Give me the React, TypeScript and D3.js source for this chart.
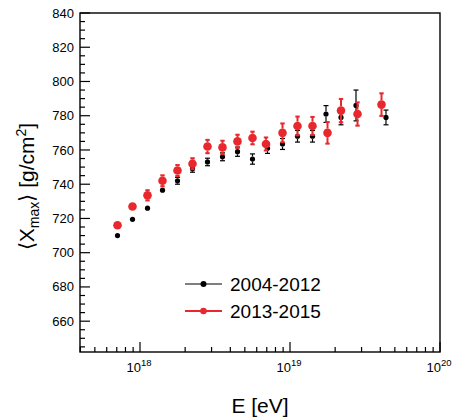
import React from "react";
import * as d3 from "d3";

// log10(E/eV) and <Xmax> [g/cm^2]
const blackLgE = [17.85, 17.95, 18.05, 18.15, 18.25, 18.35, 18.45, 18.55, 18.65, 18.75, 18.85, 18.95, 19.05, 19.15, 19.24, 19.34, 19.44, 19.64];
const blackXmax = [710, 719.5, 726, 736.5, 742, 749, 753, 756, 759, 754.7, 761, 763.5, 768, 768, 781, 779, 786, 779];
const blackErr = [1.2, 1.3, 1.5, 1.8, 2.0, 2.0, 2.2, 2.3, 2.7, 3.0, 3.0, 3.2, 3.4, 3.4, 4.9, 4.3, 9, 4.3];

const redLgE = [17.85, 17.95, 18.05, 18.15, 18.25, 18.35, 18.45, 18.55, 18.65, 18.75, 18.84, 18.95, 19.05, 19.15, 19.25, 19.34, 19.45, 19.61];
const redXmax = [716, 727, 733.5, 742, 748, 752, 762, 761.5, 765, 767, 763.5, 770, 774, 774, 770, 783, 781, 786.5];
const redErr = [1.5, 2, 3, 3.2, 3.2, 3.2, 3.9, 3.9, 3.9, 3.7, 3.8, 5.5, 5.5, 5.3, 6.3, 6.8, 6.8, 6.6];

const seriesNames = ["2004-2012", "2013-2015"];
const yMajorTicks = [660, 680, 700, 720, 740, 760, 780, 800, 820, 840];
const xDecades = [18, 19, 20];

const RED = "#e8282d";
const FONT = "'Liberation Sans', Arial, Helvetica, sans-serif";

export default function App() {
  const left = 80, right = 440, top = 13, bottom = 352;
  const x = d3.scaleLog().domain([Math.pow(10, 17.6), 1e20]).range([left, right]);
  const y = d3.scaleLinear().domain([642, 840]).range([bottom, top]);

  const yMinor = d3.range(645, 841, 5).filter((v) => v % 20 !== 0);
  const xMinor: number[] = [];
  for (let e = 17; e <= 19; e++) for (let k = 2; k <= 9; k++) {
    const v = k * Math.pow(10, e);
    if (v >= x.domain()[0] && v <= 1e20) xMinor.push(v);
  }

  const series = [
    { lg: blackLgE, v: blackXmax, err: blackErr, color: "#000", r: 2.6, w: 1.2, cap: 2.5 },
    { lg: redLgE, v: redXmax, err: redErr, color: RED, r: 4.3, w: 2, cap: 2.2 },
  ];

  return (
    <svg width={455} height={418} style={{ position: "absolute", left: 0, top: 0, background: "#fff" }} fontFamily={FONT}>
      {/* frame */}
      <rect x={left} y={top} width={right - left} height={bottom - top} fill="none" stroke="#000" strokeWidth={1.4} />
      {/* y ticks */}
      {yMajorTicks.map((t) => (
        <g key={"ym" + t}>
          <line x1={left} x2={left + 10} y1={y(t)} y2={y(t)} stroke="#000" strokeWidth={1.2} />
          <text x={74} y={y(t)} dy="0.35em" textAnchor="end" fontSize={13}>{t}</text>
        </g>
      ))}
      {yMinor.map((t) => (
        <line key={"yn" + t} x1={left} x2={left + 5} y1={y(t)} y2={y(t)} stroke="#000" strokeWidth={1.2} />
      ))}
      {/* x ticks */}
      {xDecades.map((e) => {
        const px = x(Math.pow(10, e));
        return (
          <g key={"xm" + e}>
            <line x1={px} x2={px} y1={bottom} y2={bottom - 10} stroke="#000" strokeWidth={1.2} />
            <text x={px - 1} y={372} textAnchor="middle" fontSize={13}>
              10<tspan dy={-6} fontSize={9.5}>{e}</tspan>
            </text>
          </g>
        );
      })}
      {xMinor.map((v, i) => (
        <line key={"xn" + i} x1={x(v)} x2={x(v)} y1={bottom} y2={bottom - 5} stroke="#000" strokeWidth={1.2} />
      ))}
      {/* axis titles */}
      <text x={(left + right) / 2} y={413} textAnchor="middle" fontSize={21}>E [eV]</text>
      <text transform={`translate(34, ${(top + bottom) / 2 + 4}) rotate(-90)`} textAnchor="middle" fontSize={21}>
        ⟨X<tspan dy={5} fontSize={14}>max</tspan><tspan dy={-5}>⟩ [g/cm</tspan><tspan dy={-8} fontSize={14}>2</tspan><tspan dy={8}>]</tspan>
      </text>
      {/* data */}
      {series.map((s, si) => (
        <g key={"s" + si}>
          {s.lg.map((lg, i) => {
            const px = x(Math.pow(10, lg));
            const cy = y(s.v[i]);
            const y0 = y(s.v[i] - s.err[i]);
            const y1 = y(s.v[i] + s.err[i]);
            const outside = y0 - cy > s.r + 0.5;
            return (
              <g key={i} stroke={s.color} strokeWidth={s.w}>
                {outside && (
                  <>
                    <line x1={px} x2={px} y1={cy + s.r} y2={y0} />
                    <line x1={px} x2={px} y1={cy - s.r} y2={y1} />
                    <line x1={px - s.cap} x2={px + s.cap} y1={y0} y2={y0} />
                    <line x1={px - s.cap} x2={px + s.cap} y1={y1} y2={y1} />
                  </>
                )}
                <circle cx={px} cy={cy} r={s.r} fill={s.color} stroke="none" />
              </g>
            );
          })}
        </g>
      ))}
      {/* legend */}
      {series.map((s, si) => {
        const ly = 284 + si * 27;
        return (
          <g key={"l" + si}>
            <line x1={185} x2={222} y1={ly} y2={ly} stroke={s.color} strokeWidth={s.w} />
            <circle cx={203.5} cy={ly} r={si === 0 ? 3 : 3.3} fill={s.color} />
            <text x={230} y={ly + 7} fontSize={19}>{seriesNames[si]}</text>
          </g>
        );
      })}
    </svg>
  );
}
